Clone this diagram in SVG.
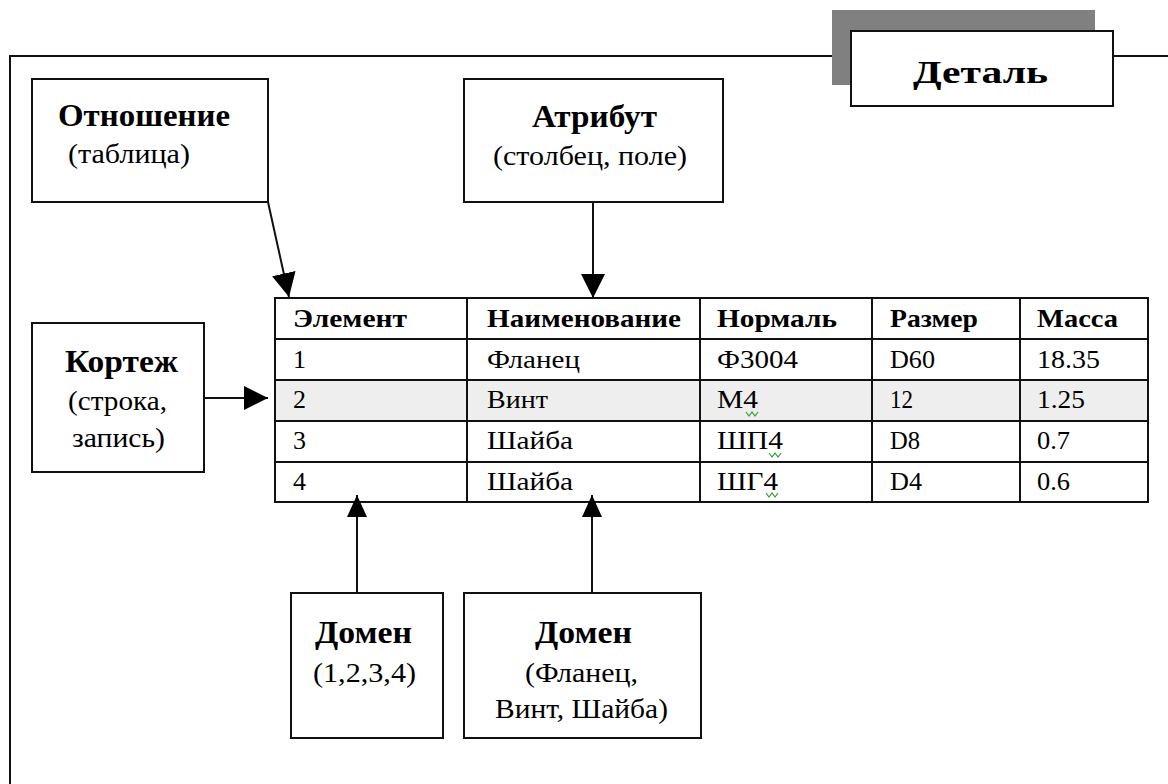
<svg xmlns="http://www.w3.org/2000/svg" width="1168" height="784" viewBox="0 0 1168 784">
<style>
.b{fill:#fff;stroke:#111;stroke-width:2}
.ln{stroke:#111;stroke-width:2;fill:none}
.t{font-family:"Liberation Serif",serif;font-weight:bold;font-size:32px;fill:#000}
.s{font-family:"Liberation Serif",serif;font-size:27px;fill:#000}
.th{font-family:"Liberation Serif",serif;font-weight:bold;font-size:26px;fill:#000}
.td{font-family:"Liberation Serif",serif;font-size:26px;fill:#000}
.sq{stroke:#3a9a3a;stroke-width:1.2;fill:none}
</style>
<defs>
<marker id="ah" viewBox="0 0 24 24" refX="24" refY="12" markerWidth="24" markerHeight="24" markerUnits="userSpaceOnUse" orient="auto">
<path d="M0,0 L24,12 L0,24 Z" fill="#000"/>
</marker>
<marker id="ah2" viewBox="0 0 22 20" refX="22" refY="10" markerWidth="22" markerHeight="20" markerUnits="userSpaceOnUse" orient="auto">
<path d="M0,0 L22,10 L0,20 Z" fill="#000"/>
</marker>
</defs>
<rect width="1168" height="784" fill="#fff"/>
<g id="frame">
<path class="ln" d="M10,784 L10,56 L851,56 M1113,56 L1168,56"/>
</g>
<g id="title">
<rect x="832" y="10" width="263" height="75" fill="#808080"/>
<rect class="b" x="851" y="31" width="262" height="75"/>
<text class="t" x="913" y="83" font-size="38" textLength="135" lengthAdjust="spacingAndGlyphs">Деталь</text>
</g>
<g id="otnoshenie">
<rect class="b" x="32" y="79" width="236" height="123"/>
<text class="t" x="58" y="126" textLength="172" lengthAdjust="spacingAndGlyphs">Отношение</text>
<text class="s" x="68" y="163" textLength="122" lengthAdjust="spacingAndGlyphs">(таблица)</text>
</g>
<g id="atribut">
<rect class="b" x="464" y="79" width="259" height="123"/>
<text class="t" x="532" y="127" textLength="125" lengthAdjust="spacingAndGlyphs">Атрибут</text>
<text class="s" x="493" y="165" textLength="194" lengthAdjust="spacingAndGlyphs">(столбец, поле)</text>
</g>
<g id="kortezh">
<rect class="b" x="32" y="323" width="172" height="149"/>
<text class="t" x="65" y="372" textLength="113" lengthAdjust="spacingAndGlyphs">Кортеж</text>
<text class="s" x="68" y="410" textLength="99" lengthAdjust="spacingAndGlyphs">(строка,</text>
<text class="s" x="72" y="447" textLength="93" lengthAdjust="spacingAndGlyphs">запись)</text>
</g>
<g id="domen1">
<rect class="b" x="291" y="593" width="152" height="145"/>
<text class="t" x="315" y="643" textLength="97" lengthAdjust="spacingAndGlyphs">Домен</text>
<text class="s" x="313" y="682" textLength="103" lengthAdjust="spacingAndGlyphs">(1,2,3,4)</text>
</g>
<g id="domen2">
<rect class="b" x="464" y="593" width="237" height="145"/>
<text class="t" x="535" y="643" textLength="97" lengthAdjust="spacingAndGlyphs">Домен</text>
<text class="s" x="525" y="682" textLength="113" lengthAdjust="spacingAndGlyphs">(Фланец,</text>
<text class="s" x="495" y="718" textLength="173" lengthAdjust="spacingAndGlyphs">Винт, Шайба)</text>
</g>
<g id="table">
<rect x="275" y="380" width="873" height="41" fill="#eeeeee"/>
<path class="ln" d="M275,298 H1148 V502 H275 Z M275,339 H1148 M275,380 H1148 M275,421 H1148 M275,462 H1148 M467,298 V502 M700,298 V502 M872,298 V502 M1020,298 V502"/>
<text class="th" x="293" y="327" textLength="114" lengthAdjust="spacingAndGlyphs">Элемент</text>
<text class="th" x="487" y="327" textLength="194" lengthAdjust="spacingAndGlyphs">Наименование</text>
<text class="th" x="717" y="327" textLength="120" lengthAdjust="spacingAndGlyphs">Нормаль</text>
<text class="th" x="890" y="327" textLength="88" lengthAdjust="spacingAndGlyphs">Размер</text>
<text class="th" x="1037" y="327" textLength="81" lengthAdjust="spacingAndGlyphs">Масса</text>
<text class="td" x="293" y="368">1</text>
<text class="td" x="487" y="368" textLength="93" lengthAdjust="spacingAndGlyphs">Фланец</text>
<text class="td" x="717" y="368" textLength="81" lengthAdjust="spacingAndGlyphs">Ф3004</text>
<text class="td" x="890" y="368" textLength="45" lengthAdjust="spacingAndGlyphs">D60</text>
<text class="td" x="1037" y="368" textLength="63" lengthAdjust="spacingAndGlyphs">18.35</text>
<text class="td" x="293" y="408">2</text>
<text class="td" x="487" y="408" textLength="61" lengthAdjust="spacingAndGlyphs">Винт</text>
<text class="td" x="717" y="408" textLength="41" lengthAdjust="spacingAndGlyphs">M4</text>
<text class="td" x="890" y="408" textLength="23" lengthAdjust="spacingAndGlyphs">12</text>
<text class="td" x="1037" y="408" textLength="48" lengthAdjust="spacingAndGlyphs">1.25</text>
<text class="td" x="293" y="449">3</text>
<text class="td" x="487" y="449" textLength="86" lengthAdjust="spacingAndGlyphs">Шайба</text>
<text class="td" x="717" y="449" textLength="66" lengthAdjust="spacingAndGlyphs">ШП4</text>
<text class="td" x="890" y="449" textLength="30" lengthAdjust="spacingAndGlyphs">D8</text>
<text class="td" x="1037" y="449" textLength="33" lengthAdjust="spacingAndGlyphs">0.7</text>
<text class="td" x="293" y="490">4</text>
<text class="td" x="487" y="490" textLength="86" lengthAdjust="spacingAndGlyphs">Шайба</text>
<text class="td" x="717" y="490" textLength="61" lengthAdjust="spacingAndGlyphs">ШГ4</text>
<text class="td" x="890" y="490" textLength="32" lengthAdjust="spacingAndGlyphs">D4</text>
<text class="td" x="1037" y="490" textLength="33" lengthAdjust="spacingAndGlyphs">0.6</text>
<polyline class="sq" points="746,412 749,416 752,412 755,416 758,412"/>
<polyline class="sq" points="769,453 772,457 775,453 778,457 781,453"/>
<polyline class="sq" points="766,493 769,497 772,493 775,497 778,493"/>
</g>
<g id="connectors">
<line class="ln" x1="268" y1="202" x2="289" y2="297" marker-end="url(#ah)"/>
<line class="ln" x1="593" y1="202" x2="593" y2="298" marker-end="url(#ah)"/>
<line class="ln" x1="204" y1="398" x2="268" y2="398" marker-end="url(#ah)"/>
<line class="ln" x1="357" y1="593" x2="357" y2="495" marker-end="url(#ah2)"/>
<line class="ln" x1="592" y1="593" x2="592" y2="495" marker-end="url(#ah2)"/>
</g>
</svg>
